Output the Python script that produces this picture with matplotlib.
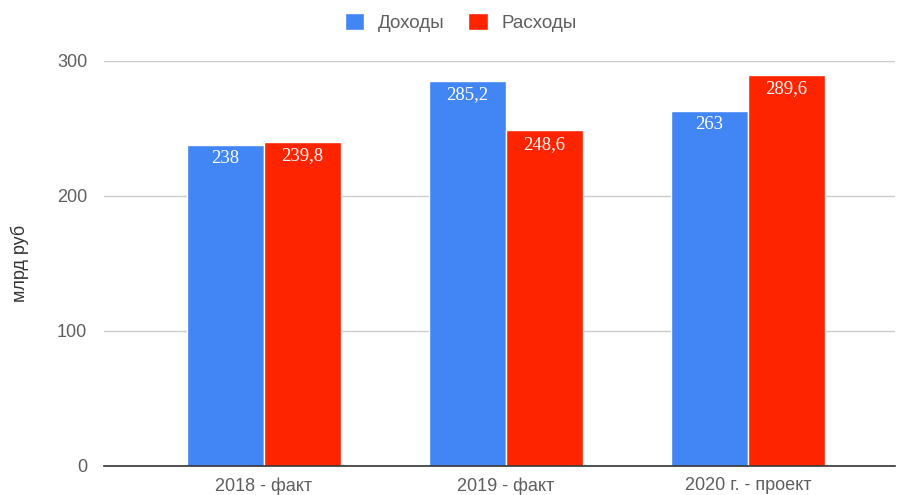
import matplotlib
matplotlib.use("Agg")
import matplotlib.pyplot as plt
import numpy as np

plt.rcParams['font.family'] = ['Liberation Sans', 'DejaVu Sans']

# data
categories = ["2018 - факт", "2019 - факт", "2020 г. - проект"]
income = [238, 285.2, 263]
expenses = [239.8, 248.6, 289.6]
income_labels = ["238", "285,2", "263"]
expense_labels = ["239,8", "248,6", "289,6"]

blue = "#4285f4"
red = "#ff2400"

fig = plt.figure(figsize=(9.03, 4.95), dpi=100)
ax = fig.add_axes([0.115, 0.0586, 0.876, 0.8184])

x = np.arange(len(categories))
w = 0.318
b1 = ax.bar(x - w / 2, income, w, color=blue, edgecolor="white", linewidth=1, label="Доходы", zorder=3)
b2 = ax.bar(x + w / 2, expenses, w, color=red, edgecolor="white", linewidth=1, label="Расходы", zorder=3)

for bars, labels in [(b1, income_labels), (b2, expense_labels)]:
    for bar, lab in zip(bars, labels):
        ax.text(bar.get_x() + bar.get_width() / 2, bar.get_height() - 4, lab,
                ha="center", va="top", color="white", fontsize=13.5,
                family=["Liberation Serif", "DejaVu Serif"], zorder=4)

ax.set_xlim(-0.661, 2.607)
ax.set_ylim(0, 300)
ax.set_yticks([0, 100, 200, 300])
ax.set_xticks(x)
ax.set_xticklabels(categories)
ax.tick_params(axis="both", length=0, labelsize=13, labelcolor="#5f5f5f", pad=8)
ax.tick_params(axis="y", pad=12)
ax.grid(axis="y", color="#cccccc", linewidth=1, zorder=0)
for s in ["top", "right", "left"]:
    ax.spines[s].set_visible(False)
ax.spines["bottom"].set_color("#333333")
ax.spines["bottom"].set_linewidth(1.2)
ax.spines["bottom"].set_zorder(5)

ax.set_ylabel("млрд руб", fontsize=13, color="#333333", labelpad=20)

fig.legend(handles=[b1, b2], loc="center", bbox_to_anchor=(0.51, 0.955), ncol=2,
           frameon=False, fontsize=13.5, handlelength=1.05, handleheight=1.05,
           handletextpad=0.7, columnspacing=1.3, labelcolor="#5f5f5f")

fig.savefig("out.png", dpi=100)
